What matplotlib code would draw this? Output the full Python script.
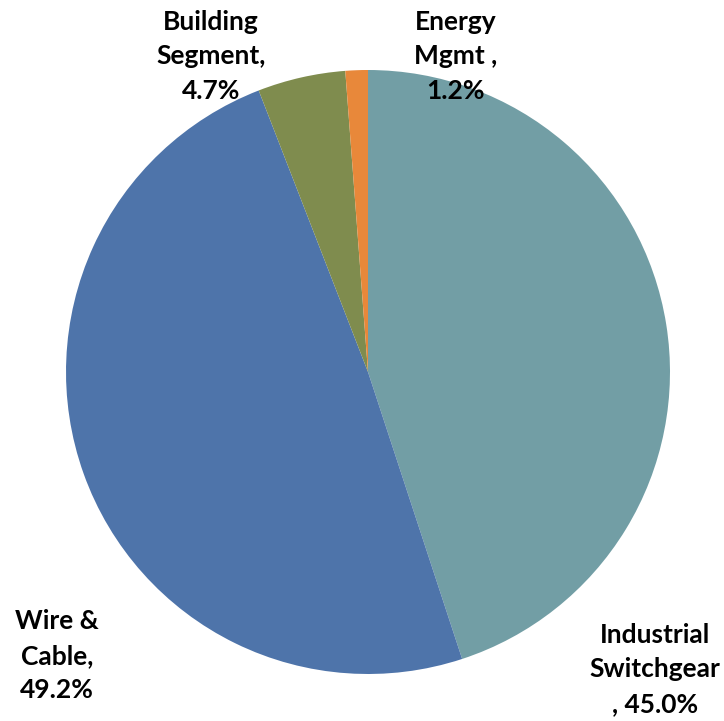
import matplotlib.pyplot as plt

segments = ['Industrial\nSwitchgear\n, 45.0%', 'Wire &\nCable,\n49.2%', 'Building\nSegment,\n4.7%', 'Energy\nMgmt ,\n1.2%']
shares = [45.0, 49.2, 4.7, 1.2]
colors = ['#729ea5', '#4e74aa', '#7f8c4e', '#e8883a']
label_pos = [(0.95, -0.985), (-1.03, -0.94), (-0.52, 1.045), (0.29, 1.045)]

fig = plt.figure(figsize=(7.24, 7.21), dpi=100)
ax = fig.add_axes([0, 0, 1, 1])

ax.pie(shares, colors=colors, startangle=90, counterclock=False,
       wedgeprops=dict(linewidth=0))

for text, (x, y) in zip(segments, label_pos):
    ax.text(x, y, text, ha='center', va='center', fontsize=19,
            fontweight='bold', family='Lato', linespacing=1.52)

# keep the pie centred where the original sits
ax.set_xlim(-368 / 302, (724 - 368) / 302)
ax.set_ylim(-(721 - 372) / 302, 372 / 302)
ax.set_aspect('equal')
ax.axis('off')

fig.savefig('out.png', dpi=100)
